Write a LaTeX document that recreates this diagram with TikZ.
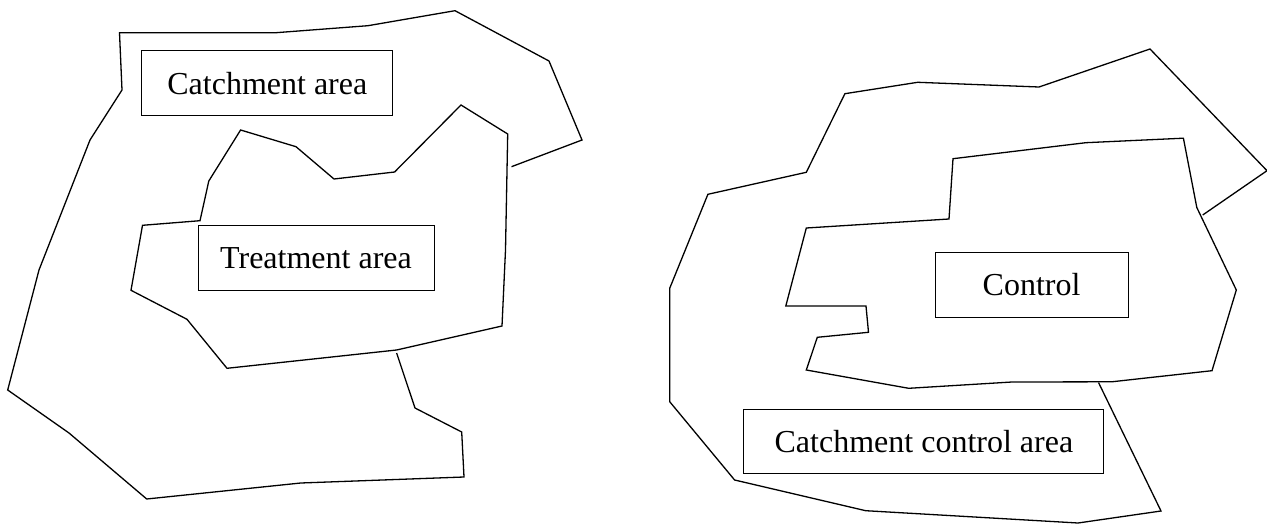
\documentclass[tikz,border=0pt]{standalone}
\usepackage{fontspec}
\setmainfont{Liberation Serif}
\tikzset{
  area/.style={draw=black, line width=1.3pt, line join=miter},
  labelbox/.style={draw=black, line width=1pt, inner sep=0pt, font=\fontsize{32}{38}\selectfont, text=black}
}
\begin{document}
\begin{tikzpicture}[x=1pt, y=-1pt]
\useasboundingbox (0,0) rectangle (1267,524);
% ---------- left figure ----------
% treatment area
\draw[area] (240.6,130) -- (296,146.7) -- (334,179) -- (394.6,172) -- (461,105) -- (507.7,134)
  -- (505.5,250) -- (502,326) -- (396.6,350) -- (227,368.3) -- (187,319.3) -- (131,290.3)
  -- (142.5,225.3) -- (200,220.7) -- (208.8,181) -- cycle;
% catchment area (open outline ending on the treatment area)
\coordinate (tA) at (511.5,166.7);
\coordinate (tB) at (396.6,353);
\draw[area] (tA) -- (582,140) -- (549,61) -- (455,10.7) -- (368,25.7) -- (276,32.7)
  -- (119.5,32.7) -- (122,90) -- (90,140) -- (39,270) -- (7.7,390) -- (69,433)
  -- (146.7,499) -- (300.8,483) -- (464,477) -- (461.7,432) -- (415,408) -- (tB);
\node[labelbox, minimum width=251pt, minimum height=65pt] (catch) at (267.3,83.5) {Catchment area};
\node[labelbox, minimum width=236pt, minimum height=65pt] (treat) at (316,258) {Treatment area};
% ---------- right figure ----------
% control area
\draw[area] (953,158.7) -- (1085.8,142.7) -- (1183.4,138.2) -- (1196.8,207.5) -- (1236.3,290)
  -- (1212,370.7) -- (1111.7,381.8) -- (1012,382) -- (908.7,388.3) -- (806.3,370)
  -- (817.3,337.3) -- (868.5,332.3) -- (866,306) -- (785.8,306) -- (806.3,228)
  -- (949,219) -- cycle;
% catchment control area (open outline ending on the control area)
\coordinate (cA) at (1098.5,382.5);
\coordinate (cB) at (1202.7,215);
\draw[area] (cA) -- (1161,511) -- (1078,523) -- (865.7,510.7) -- (734.6,480) -- (669.7,401.7)
  -- (669.7,288.3) -- (707.9,194.3) -- (806.3,172.3) -- (844.9,93.7) -- (917.7,82.3)
  -- (1039,87) -- (1150,49) -- (1267,170.7) -- (cB);
\node[labelbox, minimum width=193pt, minimum height=65pt] (ctrl) at (1031.6,284.8) {Control};
\node[labelbox, minimum width=360pt, minimum height=64pt] (cctrl) at (923.9,441.2) {Catchment control area};
\end{tikzpicture}
\end{document}
